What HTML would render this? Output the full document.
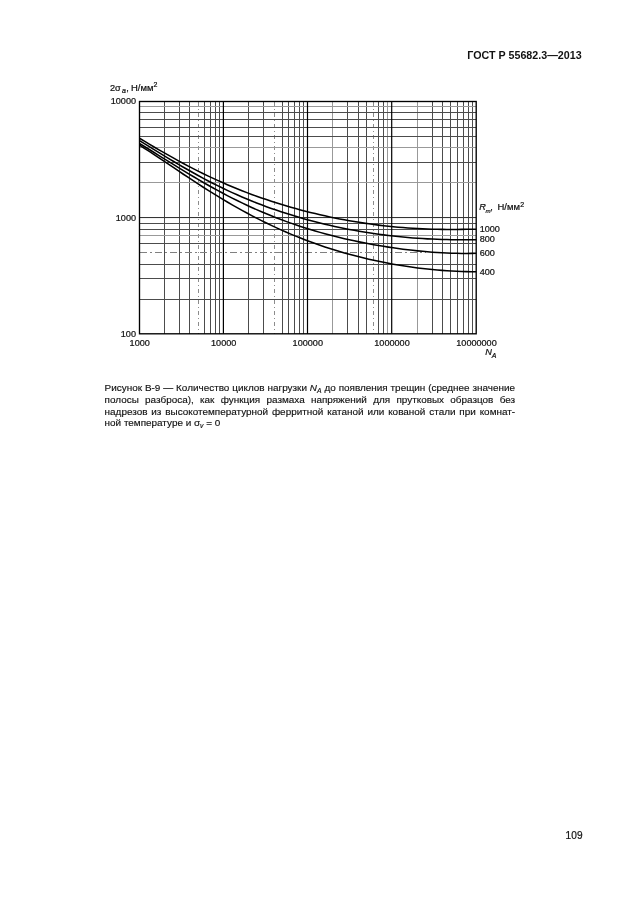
<!DOCTYPE html>
<html lang="ru"><head><meta charset="utf-8"><title>ГОСТ Р 55682.3—2013</title>
<style>
html,body{margin:0;padding:0;background:#fff;}
body{width:630px;height:913px;position:relative;overflow:hidden;font-family:"Liberation Sans",Arial,sans-serif;color:#111;}
.hdr{position:absolute;right:48.4px;top:48.2px;font-weight:bold;font-size:10.7px;line-height:14px;white-space:nowrap;}
.cap{position:absolute;left:104.6px;top:381.5px;width:410.5px;font-size:9.93px;line-height:11.56px;-webkit-text-stroke:0.15px #111;}
.cap .l{display:block;text-align:justify;text-align-last:justify;white-space:nowrap;}
.cap .last{display:block;text-align:left;white-space:nowrap;}
.cap sub{font-size:6.8px;font-style:italic;vertical-align:baseline;position:relative;top:2px;}
.pn{position:absolute;right:47.3px;top:829.5px;font-size:10.1px;line-height:12px;letter-spacing:0.15px;-webkit-text-stroke:0.2px #111;}
</style></head><body>
<div class="hdr">ГОСТ Р 55682.3—2013</div>
<svg width="630" height="913" viewBox="0 0 630 913" style="position:absolute;left:0;top:0">
<g shape-rendering="crispEdges" stroke-width="1">
<line x1="164.5" y1="101.5" x2="164.5" y2="333.8" stroke="#4c4c4c"/>
<line x1="179.5" y1="101.5" x2="179.5" y2="333.8" stroke="#4c4c4c"/>
<line x1="189.5" y1="101.5" x2="189.5" y2="333.8" stroke="#4c4c4c"/>
<line x1="198.5" y1="101.5" x2="198.5" y2="333.8" stroke="#8c8c8c" stroke-dasharray="4 3 1 3"/>
<line x1="204.5" y1="101.5" x2="204.5" y2="333.8" stroke="#4c4c4c"/>
<line x1="210.5" y1="101.5" x2="210.5" y2="333.8" stroke="#4c4c4c"/>
<line x1="215.5" y1="101.5" x2="215.5" y2="333.8" stroke="#4c4c4c"/>
<line x1="219.5" y1="101.5" x2="219.5" y2="333.8" stroke="#4c4c4c"/>
<line x1="248.5" y1="101.5" x2="248.5" y2="333.8" stroke="#4c4c4c"/>
<line x1="263.5" y1="101.5" x2="263.5" y2="333.8" stroke="#4c4c4c"/>
<line x1="274.5" y1="101.5" x2="274.5" y2="333.8" stroke="#8c8c8c" stroke-dasharray="4 3 1 3"/>
<line x1="282.5" y1="101.5" x2="282.5" y2="333.8" stroke="#4c4c4c"/>
<line x1="288.5" y1="101.5" x2="288.5" y2="333.8" stroke="#4c4c4c"/>
<line x1="294.5" y1="101.5" x2="294.5" y2="333.8" stroke="#4c4c4c"/>
<line x1="299.5" y1="101.5" x2="299.5" y2="333.8" stroke="#4c4c4c"/>
<line x1="303.5" y1="101.5" x2="303.5" y2="333.8" stroke="#4c4c4c"/>
<line x1="332.5" y1="101.5" x2="332.5" y2="333.8" stroke="#999"/>
<line x1="347.5" y1="101.5" x2="347.5" y2="333.8" stroke="#4c4c4c"/>
<line x1="358.5" y1="101.5" x2="358.5" y2="333.8" stroke="#4c4c4c"/>
<line x1="366.5" y1="101.5" x2="366.5" y2="333.8" stroke="#4c4c4c"/>
<line x1="373.5" y1="101.5" x2="373.5" y2="333.8" stroke="#8c8c8c" stroke-dasharray="4 3 1 3"/>
<line x1="378.5" y1="101.5" x2="378.5" y2="333.8" stroke="#4c4c4c"/>
<line x1="383.5" y1="101.5" x2="383.5" y2="333.8" stroke="#4c4c4c"/>
<line x1="387.5" y1="101.5" x2="387.5" y2="333.8" stroke="#999"/>
<line x1="417.5" y1="101.5" x2="417.5" y2="333.8" stroke="#999"/>
<line x1="432.5" y1="101.5" x2="432.5" y2="333.8" stroke="#4c4c4c"/>
<line x1="442.5" y1="101.5" x2="442.5" y2="333.8" stroke="#4c4c4c"/>
<line x1="450.5" y1="101.5" x2="450.5" y2="333.8" stroke="#4c4c4c"/>
<line x1="457.5" y1="101.5" x2="457.5" y2="333.8" stroke="#4c4c4c"/>
<line x1="463.5" y1="101.5" x2="463.5" y2="333.8" stroke="#4c4c4c"/>
<line x1="468.5" y1="101.5" x2="468.5" y2="333.8" stroke="#4c4c4c"/>
<line x1="472.5" y1="101.5" x2="472.5" y2="333.8" stroke="#4c4c4c"/>
<line x1="139.5" y1="106.5" x2="476.2" y2="106.5" stroke="#999"/>
<line x1="139.5" y1="112.5" x2="476.2" y2="112.5" stroke="#4c4c4c"/>
<line x1="139.5" y1="119.5" x2="476.2" y2="119.5" stroke="#4c4c4c"/>
<line x1="139.5" y1="127.5" x2="476.2" y2="127.5" stroke="#4c4c4c"/>
<line x1="139.5" y1="136.5" x2="476.2" y2="136.5" stroke="#4c4c4c"/>
<line x1="139.5" y1="147.5" x2="476.2" y2="147.5" stroke="#999"/>
<line x1="139.5" y1="162.5" x2="476.2" y2="162.5" stroke="#4c4c4c"/>
<line x1="139.5" y1="182.5" x2="476.2" y2="182.5" stroke="#999"/>
<line x1="139.5" y1="217.5" x2="476.2" y2="217.5" stroke="#4c4c4c"/>
<line x1="139.5" y1="223.5" x2="476.2" y2="223.5" stroke="#4c4c4c"/>
<line x1="139.5" y1="229.5" x2="476.2" y2="229.5" stroke="#4c4c4c"/>
<line x1="139.5" y1="235.5" x2="476.2" y2="235.5" stroke="#999"/>
<line x1="139.5" y1="243.5" x2="476.2" y2="243.5" stroke="#4c4c4c"/>
<line x1="139.5" y1="252.5" x2="426.2" y2="252.5" stroke="#808080" stroke-dasharray="7 3 2 3"/>
<line x1="139.5" y1="264.5" x2="476.2" y2="264.5" stroke="#4c4c4c"/>
<line x1="139.5" y1="278.5" x2="476.2" y2="278.5" stroke="#4c4c4c"/>
<line x1="139.5" y1="299.5" x2="476.2" y2="299.5" stroke="#4c4c4c"/>
</g>
<line x1="223.40" y1="101.5" x2="223.40" y2="333.8" stroke="#000" stroke-width="1.2"/>
<line x1="307.50" y1="101.5" x2="307.50" y2="333.8" stroke="#000" stroke-width="1.2"/>
<line x1="391.70" y1="101.5" x2="391.70" y2="333.8" stroke="#000" stroke-width="1.2"/>
<line x1="139.5" y1="217.6" x2="476.2" y2="217.6" stroke="#222" stroke-width="0.6"/>
<rect x="139.5" y="101.5" width="336.70" height="232.30" fill="none" stroke="#000" stroke-width="1.35"/>
<path d="M139.5,138.22 L144.4,141.17 L149.3,144.09 L154.1,146.98 L159.0,149.85 L163.9,152.67 L168.8,155.45 L173.7,158.19 L178.5,160.88 L183.4,163.52 L188.3,166.10 L193.2,168.63 L198.1,171.10 L202.9,173.52 L207.8,175.87 L212.7,178.17 L217.6,180.41 L222.5,182.58 L227.3,184.70 L232.2,186.76 L237.1,188.76 L242.0,190.71 L246.9,192.60 L251.7,194.43 L256.6,196.21 L261.5,197.93 L266.4,199.60 L271.3,201.22 L276.1,202.79 L281.0,204.30 L285.9,205.77 L290.8,207.19 L295.7,208.57 L300.5,209.89 L305.4,211.17 L310.3,212.41 L315.2,213.60 L320.0,214.75 L324.9,215.85 L329.8,216.91 L334.7,217.92 L339.6,218.89 L344.4,219.82 L349.3,220.71 L354.2,221.55 L359.1,222.35 L364.0,223.11 L368.8,223.82 L373.7,224.49 L378.6,225.12 L383.5,225.70 L388.4,226.24 L393.2,226.74 L398.1,227.19 L403.0,227.60 L407.9,227.96 L412.8,228.28 L417.6,228.56 L422.5,228.80 L427.4,229.00 L432.3,229.15 L437.2,229.27 L442.0,229.36 L446.9,229.41 L451.8,229.42 L456.7,229.41 L461.6,229.38 L466.4,229.32 L471.3,229.24 L476.2,229.16" fill="none" stroke="#000" stroke-width="1.55"/>
<path d="M139.5,140.63 L144.4,143.62 L149.3,146.62 L154.1,149.62 L159.0,152.62 L163.9,155.60 L168.8,158.56 L173.7,161.49 L178.5,164.38 L183.4,167.23 L188.3,170.03 L193.2,172.78 L198.1,175.48 L202.9,178.12 L207.8,180.70 L212.7,183.21 L217.6,185.66 L222.5,188.05 L227.3,190.37 L232.2,192.63 L237.1,194.83 L242.0,196.95 L246.9,199.02 L251.7,201.02 L256.6,202.96 L261.5,204.83 L266.4,206.65 L271.3,208.41 L276.1,210.10 L281.0,211.75 L285.9,213.33 L290.8,214.86 L295.7,216.34 L300.5,217.77 L305.4,219.15 L310.3,220.47 L315.2,221.75 L320.0,222.98 L324.9,224.17 L329.8,225.30 L334.7,226.39 L339.6,227.44 L344.4,228.44 L349.3,229.40 L354.2,230.32 L359.1,231.19 L364.0,232.01 L368.8,232.80 L373.7,233.54 L378.6,234.24 L383.5,234.89 L388.4,235.50 L393.2,236.07 L398.1,236.59 L403.0,237.08 L407.9,237.52 L412.8,237.91 L417.6,238.27 L422.5,238.58 L427.4,238.86 L432.3,239.09 L437.2,239.29 L442.0,239.45 L446.9,239.58 L451.8,239.68 L456.7,239.75 L461.6,239.79 L466.4,239.82 L471.3,239.83 L476.2,239.83" fill="none" stroke="#000" stroke-width="1.55"/>
<path d="M139.5,143.51 L144.4,146.48 L149.3,149.48 L154.1,152.51 L159.0,155.55 L163.9,158.59 L168.8,161.64 L173.7,164.66 L178.5,167.67 L183.4,170.66 L188.3,173.61 L193.2,176.53 L198.1,179.41 L202.9,182.24 L207.8,185.02 L212.7,187.75 L217.6,190.42 L222.5,193.04 L227.3,195.60 L232.2,198.09 L237.1,200.53 L242.0,202.90 L246.9,205.21 L251.7,207.45 L256.6,209.63 L261.5,211.75 L266.4,213.80 L271.3,215.79 L276.1,217.71 L281.0,219.58 L285.9,221.38 L290.8,223.12 L295.7,224.81 L300.5,226.43 L305.4,228.00 L310.3,229.52 L315.2,230.98 L320.0,232.38 L324.9,233.74 L329.8,235.04 L334.7,236.30 L339.6,237.50 L344.4,238.66 L349.3,239.78 L354.2,240.84 L359.1,241.87 L364.0,242.85 L368.8,243.79 L373.7,244.68 L378.6,245.54 L383.5,246.35 L388.4,247.12 L393.2,247.85 L398.1,248.54 L403.0,249.19 L407.9,249.79 L412.8,250.35 L417.6,250.87 L422.5,251.35 L427.4,251.78 L432.3,252.16 L437.2,252.49 L442.0,252.78 L446.9,253.02 L451.8,253.20 L456.7,253.33 L461.6,253.41 L466.4,253.42 L471.3,253.38 L476.2,253.27" fill="none" stroke="#000" stroke-width="1.55"/>
<path d="M139.5,145.16 L144.4,148.28 L149.3,151.46 L154.1,154.67 L159.0,157.91 L163.9,161.17 L168.8,164.44 L173.7,167.72 L178.5,170.98 L183.4,174.24 L188.3,177.47 L193.2,180.68 L198.1,183.85 L202.9,186.99 L207.8,190.09 L212.7,193.15 L217.6,196.15 L222.5,199.11 L227.3,202.01 L232.2,204.85 L237.1,207.63 L242.0,210.36 L246.9,213.02 L251.7,215.62 L256.6,218.16 L261.5,220.63 L266.4,223.04 L271.3,225.38 L276.1,227.66 L281.0,229.87 L285.9,232.02 L290.8,234.10 L295.7,236.12 L300.5,238.07 L305.4,239.97 L310.3,241.80 L315.2,243.57 L320.0,245.27 L324.9,246.92 L329.8,248.51 L334.7,250.04 L339.6,251.52 L344.4,252.93 L349.3,254.30 L354.2,255.60 L359.1,256.86 L364.0,258.06 L368.8,259.21 L373.7,260.30 L378.6,261.34 L383.5,262.34 L388.4,263.28 L393.2,264.17 L398.1,265.02 L403.0,265.81 L407.9,266.55 L412.8,267.25 L417.6,267.90 L422.5,268.49 L427.4,269.04 L432.3,269.54 L437.2,269.99 L442.0,270.39 L446.9,270.74 L451.8,271.03 L456.7,271.28 L461.6,271.48 L466.4,271.62 L471.3,271.72 L476.2,271.76" fill="none" stroke="#000" stroke-width="1.55"/>
<g font-family="'Liberation Sans', Arial, sans-serif" fill="#111" stroke="#111" stroke-width="0.22">
<text x="110.0" y="90.6" font-size="9.2" text-anchor="start" >2σ</text>
<text x="121.9" y="92.9" font-size="7.0" text-anchor="start" font-style="italic">a</text>
<text x="126.2" y="90.6" font-size="9.2" text-anchor="start" >,</text>
<text x="131.0" y="90.6" font-size="9.45" text-anchor="start" >Н/мм</text>
<text x="153.6" y="87.2" font-size="7.0" text-anchor="start" >2</text>
<text x="136" y="104.3" font-size="9.1" text-anchor="end" >10000</text>
<text x="136" y="220.5" font-size="9.1" text-anchor="end" >1000</text>
<text x="136" y="336.7" font-size="9.1" text-anchor="end" >100</text>
<text x="139.7" y="345.5" font-size="9.1" text-anchor="middle" >1000</text>
<text x="223.7" y="345.5" font-size="9.1" text-anchor="middle" >10000</text>
<text x="307.8" y="345.5" font-size="9.1" text-anchor="middle" >100000</text>
<text x="392.0" y="345.5" font-size="9.1" text-anchor="middle" >1000000</text>
<text x="476.5" y="345.5" font-size="9.1" text-anchor="middle" >10000000</text>
<text x="485.2" y="354.8" font-size="9.2" text-anchor="start" font-style="italic">N</text>
<text x="491.8" y="357.9" font-size="7.0" text-anchor="start" font-style="italic">A</text>
<text x="479.3" y="210.3" font-size="9.2" text-anchor="start" font-style="italic">R</text>
<text x="485.5" y="212.9" font-size="6.2" text-anchor="start" font-style="italic">m</text>
<text x="490.3" y="210.3" font-size="9.2" text-anchor="start" >,</text>
<text x="497.5" y="210.3" font-size="9.45" text-anchor="start" >Н/мм</text>
<text x="520.3" y="206.6" font-size="7.0" text-anchor="start" >2</text>
<text x="479.7" y="232.4" font-size="9.1" text-anchor="start" >1000</text>
<text x="479.7" y="242.4" font-size="9.1" text-anchor="start" >800</text>
<text x="479.7" y="256.3" font-size="9.1" text-anchor="start" >600</text>
<text x="479.7" y="274.9" font-size="9.1" text-anchor="start" >400</text>
</g>
</svg>
<div class="cap"><span class="l">Рисунок В-9 — Количество циклов нагрузки <i>N</i><sub>A</sub> до появления трещин (среднее значение</span><span class="l">полосы разброса), как функция размаха напряжений для прутковых образцов без</span><span class="l">надрезов из высокотемпературной ферритной катаной или кованой стали при комнат-</span><span class="last">ной температуре и σ<sub>v</sub> = 0</span></div>
<div class="pn">109</div>
</body></html>
